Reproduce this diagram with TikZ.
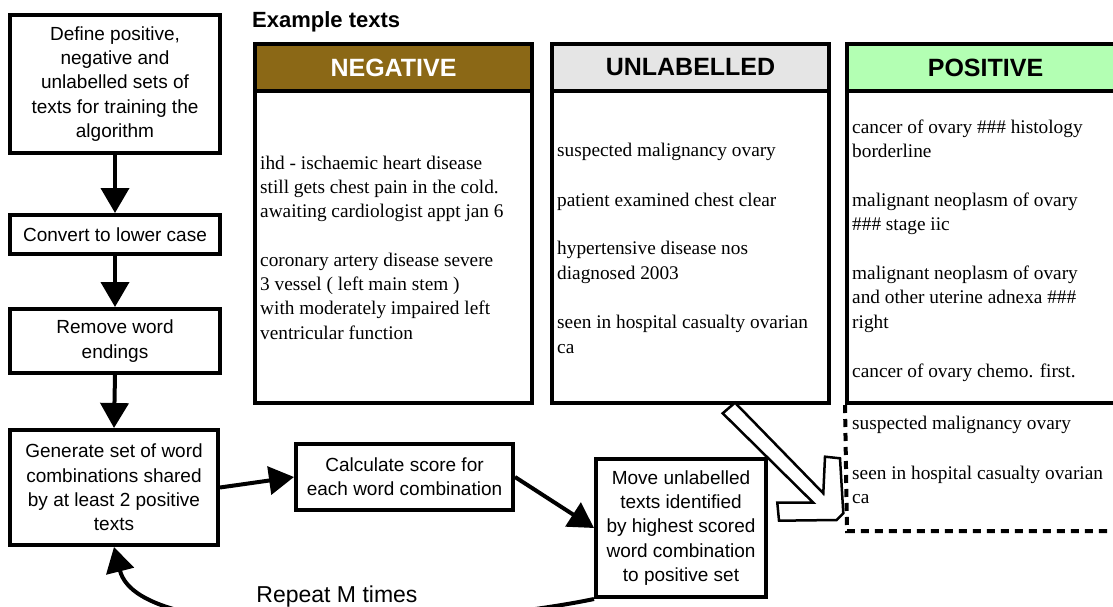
\documentclass[tikz,border=0pt]{standalone}
\usepackage{fontspec}
\setmainfont{Liberation Serif}
\setsansfont{Liberation Sans}
\usetikzlibrary{arrows.meta}
\definecolor{negbrown}{RGB}{139,104,22}
\definecolor{unlgray}{RGB}{229,229,229}
\definecolor{posgreen}{RGB}{179,255,179}
\begin{document}
\begin{tikzpicture}[x=1pt,y=-1pt,line join=miter,
  flow/.style={draw,line width=4pt,fill=white,align=center,inner sep=0pt,
    font=\sffamily\fontsize{19}{24.3}\selectfont},
  arr/.style={line width=4pt,-{Triangle[length=25pt,width=28pt]}},
  ex/.style={anchor=base west,inner sep=0pt,font=\rmfamily\fontsize{19.3}{24}\selectfont},
  hdr/.style={draw,line width=4pt,minimum width=277pt,minimum height=47pt,inner sep=0pt,
    font=\sffamily\bfseries\fontsize{25}{30}\selectfont},
  body/.style={draw,line width=4pt,minimum width=277pt,minimum height=312pt,inner sep=0pt},
  dsh/.style={line width=4pt,dash pattern=on 8pt off 6pt},
  hollow/.style={draw,line width=2.5pt,fill=white}]
\useasboundingbox (0,0) rectangle (1113,607);
\clip (0,0) rectangle (1113,607);
\fill[white] (0,0) rectangle (1113,607);

% flowchart
\node[flow,minimum width=210pt,minimum height=138pt] (b1) at (115,84)
  {Define positive,\\negative and\\unlabelled sets of\\texts for training the\\algorithm};
\node[flow,minimum width=210pt,minimum height=39pt] (b2) at (115,234.5) {Convert to lower case};
\node[flow,minimum width=210pt,minimum height=64pt] (b3) at (115,341) {Remove word\\endings};
\node[flow,minimum width=208pt,minimum height=115pt] (b4) at (114,487.5)
  {Generate set of word\\combinations shared\\by at least 2 positive\\texts};
\node[flow,minimum width=217pt,minimum height=66pt] (calc) at (404.5,477)
  {Calculate score for\\each word combination};
\node[flow,minimum width=170pt,minimum height=138pt] (move) at (681,528)
  {Move unlabelled\\texts identified\\by highest scored\\word combination\\to positive set};

\draw[arr] (b1.south) -- (b2.north);
\draw[arr] (b2.south) -- (b3.north);
\draw[arr] (b3.south) -- (b4.north);
\draw[arr] (b4.east) -- (calc.west);
\draw[arr] (calc.east) -- (move.west);
\draw[arr] (move.south west) .. controls (470,625) and (140,650) .. (b4.south);
\node[anchor=base,inner sep=0pt,font=\sffamily\fontsize{23}{27}\selectfont] (rep) at (337,602) {Repeat M times};

% example texts
\node[anchor=base west,inner sep=0pt,font=\sffamily\bfseries\fontsize{22}{26}\selectfont] (extitle) at (252,28) {Example texts};

\node[body] (negbody) at (393.5,247) {};
\node[hdr,fill=negbrown,text=white] (neghdr) at (393.5,67.5) {NEGATIVE};
\node[body] (unlbody) at (690.5,247) {};
\node[hdr,fill=unlgray] (unlhdr) at (690.5,67.5) {UNLABELLED};
\node[body] (posbody) at (985.5,247) {};
\node[hdr,fill=posgreen] (poshdr) at (985.5,67.5) {POSITIVE};
\coordinate (dashbl) at (847,531);
\coordinate (dashbr) at (1124,531);
\draw[dsh] (posbody.south west) -- (dashbl) -- (dashbr);

\foreach \t/\y [count=\i] in {ihd - ischaemic heart disease/169,
  still gets chest pain in the cold./193.3, awaiting cardiologist appt jan 6/217.6,
  coronary artery disease severe/266.2, 3 vessel ( left main stem )/290.5,
  with moderately impaired left/314.8, ventricular function/339.1}
  \node[ex] (neg\i) at (260,\y) {\t};

\foreach \t/\y [count=\i] in {suspected malignancy ovary/157,
  patient examined chest clear/206, hypertensive disease nos/254.5,
  diagnosed 2003/279, seen in hospital casualty ovarian/328.5, ca/353}
  \node[ex] (unl\i) at (557,\y) {\t};

\foreach \t/\y [count=\i] in {cancer of ovary \#\#\# histology/133,
  borderline/157.5, malignant neoplasm of ovary/206, \#\#\# stage iic/230.5,
  malignant neoplasm of ovary/279, and other uterine adnexa \#\#\#/303.5,
  right/328, cancer of ovary chemo. first./377,
  suspected malignancy ovary/429.5, seen in hospital casualty ovarian/479, ca/503.5}
  \node[ex] (pos\i) at (852,\y) {\t};

% hollow block arrow
\draw[hollow] (722.7,413.3) -- (735,402.7) -- (823.3,493.3) -- (825,456.7)
  -- (840,458.3) -- (843.3,513.3) -- (836.7,520) -- (779,520.7)
  -- (777.3,502.7) -- (813.3,502.7) -- cycle;
\end{tikzpicture}
\end{document}
